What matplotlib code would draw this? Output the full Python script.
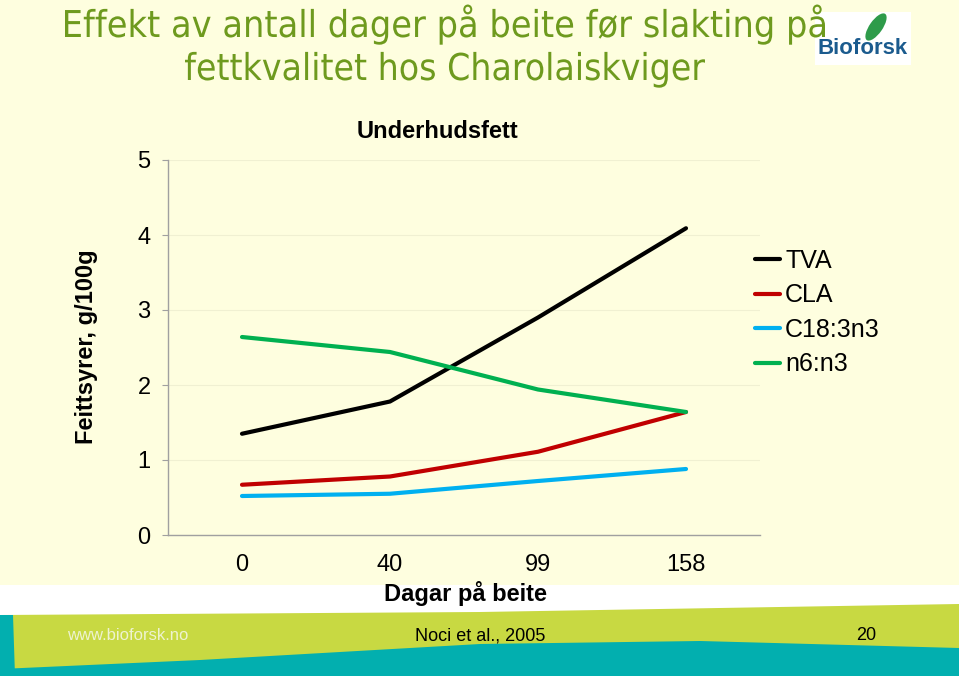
import numpy as np
import matplotlib.pyplot as plt
from matplotlib.patches import Polygon, Rectangle, Ellipse, PathPatch
from matplotlib.textpath import TextPath
from matplotlib.font_manager import FontProperties
from matplotlib.transforms import Affine2D

# data
dager = ['0', '40', '99', '158']
tva = [1.35, 1.78, 2.90, 4.09]
cla = [0.67, 0.78, 1.11, 1.64]
c18_3n3 = [0.52, 0.55, 0.72, 0.88]
n6_n3 = [2.64, 2.44, 1.94, 1.64]
serier = ['TVA', 'CLA', 'C18:3n3', 'n6:n3']
farger = ['#000000', '#C00000', '#00B0F0', '#00B050']

bg_col = '#FEFEDF'
plt.rcParams['font.family'] = ['Liberation Sans', 'DejaVu Sans']

fig = plt.figure(figsize=(9.59, 6.76), dpi=100, facecolor=bg_col)

# slide background / footer (pixel coords)
bg = fig.add_axes([0, 0, 1, 1], zorder=-1)
bg.set_xlim(0, 959)
bg.set_ylim(676, 0)
bg.axis('off')
bg.add_patch(Rectangle((0, 585), 959, 91, color='white', lw=0))
bg.add_patch(Polygon([(0, 615), (480, 612), (959, 604), (959, 676), (0, 676)],
                     closed=True, color='#C8D942', lw=0))
bg.add_patch(Polygon([(0, 669), (200, 660), (480, 644), (700, 641), (959, 648),
                      (959, 676), (0, 676)], closed=True, color='#02AFAF', lw=0))
bg.add_patch(Polygon([(0, 615), (13, 615), (15, 676), (0, 676)],
                     closed=True, color='#02AFAF', lw=0))
# logo
bg.add_patch(Rectangle((815, 12), 96, 53, color='white', lw=0))
bg.add_patch(Ellipse((876, 27), 13, 32, angle=35, color='#2E9B4A', lw=0))
bg.text(863, 48, 'Bioforsk', fontsize=16, fontweight='bold', color='#1B5B8E',
        ha='center', va='center', family=['Liberation Sans'])


# slide title, narrow font imitated by squeezing the glyph outlines
def smal_tekst(tekst, xc, baseline, bredde, hoyde):
    tp = TextPath((0, 0), tekst, size=1, prop=FontProperties(family='DejaVu Sans'))
    ext = tp.get_extents()
    sx = bredde / ext.width
    tr = Affine2D().translate(-ext.x0 - ext.width / 2, 0).scale(sx, -hoyde).translate(xc, baseline)
    bg.add_patch(PathPatch(tr.transform_path(tp), color='#6E9A1E', lw=0))


smal_tekst('Effekt av antall dager på beite før slakting på', 445, 37, 760, 37)
smal_tekst('fettkvalitet hos Charolaiskviger', 445, 80, 520, 37)

ax = fig.add_axes([168 / 959, 1 - 535 / 676, 592 / 959, 375 / 676])
ax.set_facecolor('none')
x = np.arange(len(dager))
for vals, navn, col in zip([tva, cla, c18_3n3, n6_n3], serier, farger):
    ax.plot(x, vals, color=col, lw=3.0, label=navn, solid_capstyle='round')

ax.set_xlim(-0.5, len(dager) - 0.5)
ax.set_ylim(0, 5)
ax.set_yticks(range(6))
ax.set_xticks(x)
ax.set_xticklabels(dager)
ax.tick_params(axis='x', length=0, pad=14, labelsize=17)
ax.tick_params(axis='y', length=4.5, pad=8, labelsize=17, color='#A0A0A0')
ax.grid(axis='y', color='#F0F0D2', lw=0.8)
ax.set_axisbelow(True)
for s in ['top', 'right']:
    ax.spines[s].set_visible(False)
for s in ['left', 'bottom']:
    ax.spines[s].set_color('#A0A0A0')
    ax.spines[s].set_linewidth(1)

fig.text(437, 676 - 131, 'Underhudsfett', transform=None, ha='center',
         va='center', fontsize=17, fontweight='bold')
fig.text(87, 676 - 347, 'Feittsyrer, g/100g', transform=None, ha='center',
         va='center', rotation=90, fontsize=17, fontweight='bold')
fig.text(465, 676 - 594, 'Dagar på beite', transform=None, ha='center',
         va='center', fontsize=17, fontweight='bold')

ax.legend(loc='upper left', bbox_to_anchor=(755 / 959, 1 - 249 / 676),
          bbox_transform=fig.transFigure, frameon=False, fontsize=18,
          handlelength=1.0, handletextpad=0.2, labelspacing=0.42,
          borderaxespad=0, borderpad=0)

# footer text
fig.text(128, 676 - 636, 'www.bioforsk.no', transform=None, ha='center',
         va='center', fontsize=12, color='#EEF3D0')
fig.text(480, 676 - 636, 'Noci et al., 2005', transform=None, ha='center',
         va='center', fontsize=13)
fig.text(866, 676 - 636, '20', transform=None, ha='center', va='center',
         fontsize=13)

fig.savefig('out.png', dpi=100, facecolor=bg_col)
